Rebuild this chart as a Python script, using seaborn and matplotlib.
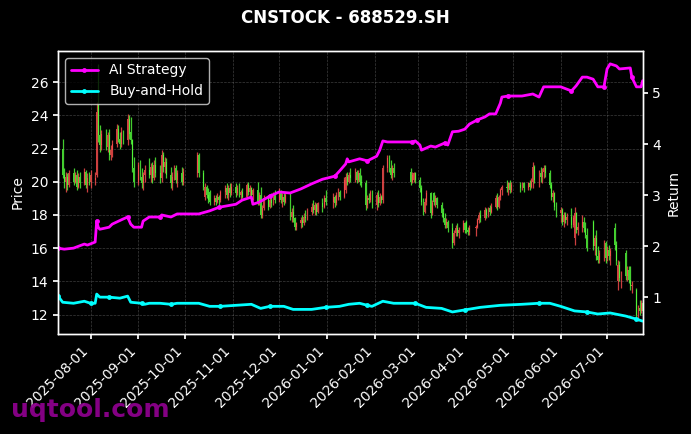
import pandas as pd
import numpy as np
import matplotlib

matplotlib.use("Agg")
import matplotlib.pyplot as plt
import matplotlib.dates as mdates
import seaborn as sns

title = "CNSTOCK - 688529.SH"
watermark = "uqtool.com"

# exchange holidays (no candles on these weekdays)
holidays = [
    "2025-10-01", "2025-10-02", "2025-10-03", "2025-10-06", "2025-10-07", "2025-10-08",
    "2026-01-01", "2026-01-02",
    "2026-02-16", "2026-02-17", "2026-02-18", "2026-02-19", "2026-02-20", "2026-02-23",
    "2026-04-06", "2026-05-01", "2026-05-04", "2026-05-05", "2026-06-19",
]

# daily OHLC, one line per month (2025-07 ... 2026-07)
opens = [
    23.4, 22.0, 20.4, 20.0, 20.3, 19.8, 20.5, 20.0, 20.4, 19.7, 20.3, 19.9, 20.6, 19.8, 20.2,
    20.0, 20.1, 20.4, 24.6, 22.8, 22.2, 22.9, 22.1, 22.8, 21.6, 21.9, 22.3, 23.2, 22.6, 22.3, 23.0, 22.5, 23.8, 23.0, 22.5, 20.8,
    20.0, 21.0, 20.3, 19.9, 20.4, 20.7, 20.4, 20.9, 20.2, 21.0, 20.5, 20.2, 21.6, 20.9, 21.2, 20.4, 19.9, 20.3, 20.8, 20.1, 20.5, 20.0,
    20.5, 21.6, 20.5, 19.1, 19.7, 19.2, 19.4, 18.8, 19.0, 18.8, 19.1, 18.9, 19.4, 19.6, 19.2, 19.6, 19.3,
    19.7, 19.3, 19.6, 19.2, 19.4, 19.1, 19.8, 19.4, 19.6, 19.2, 19.5, 18.8, 19.2, 18.0, 18.4, 19.0, 18.5, 18.9, 18.7, 19.2,
    18.9, 19.4, 18.9, 19.1, 18.8, 19.2, 17.9, 18.2, 17.8, 17.3, 17.5, 17.7, 17.5, 17.9, 17.8, 18.2, 18.5, 18.3, 18.6, 18.2, 18.7, 18.5, 19.0,
    18.8, 19.1, 18.7, 19.2, 19.4, 19.1, 19.5, 20.3, 20.0, 20.4, 20.2, 20.6, 20.1, 20.5, 20.0, 19.9, 18.6, 19.0, 18.9, 19.4,
    18.6, 19.2, 18.7, 19.1, 18.9, 20.8, 21.4, 20.8, 20.4, 20.8, 20.6, 20.0, 20.1, 20.5,
    20.1, 19.6, 18.8, 18.2, 18.8, 19.3, 18.1, 19.3, 18.8, 19.0, 18.6, 18.1, 17.8, 17.4, 17.6, 17.2, 16.3, 16.9, 17.2, 16.9, 17.1, 17.5,
    17.6, 17.1, 17.0, 17.2, 17.3, 17.7, 18.0, 17.8, 18.3, 18.0, 18.4, 18.2, 18.5, 19.0, 18.5, 19.1, 19.5, 19.7, 19.6, 19.9, 19.5,
    19.8, 19.6, 19.9, 19.6, 19.9, 19.7, 20.0, 20.9, 20.1, 20.5, 20.3, 20.6, 20.8, 20.5, 19.8, 19.1, 19.3, 18.5,
    18.1, 18.3, 17.6, 18.0, 17.7, 17.9, 17.4, 16.6, 18.1, 17.1, 17.3, 17.6, 17.2, 16.8, 17.6, 16.1, 16.6, 15.5, 15.3, 15.7, 16.3,
    15.4, 15.9, 15.5, 17.2, 16.2, 14.0, 15.0, 14.2, 15.7, 14.3, 14.7, 14.1, 13.7, 13.5, 12.0, 12.4, 12.2, 12.7,
]
highs = [
    23.8, 22.6, 20.8, 20.6, 20.5, 20.7, 20.8, 20.6, 20.7, 20.5, 20.6, 20.8, 20.7, 20.5, 20.6,
    20.7, 20.6, 24.8, 27.1, 23.4, 23.1, 23.2, 23.0, 23.2, 22.2, 22.5, 23.5, 23.4, 23.0, 23.3, 23.1, 24.1, 24.0, 23.9, 22.6, 21.5,
    21.2, 21.3, 20.8, 20.6, 21.0, 21.4, 21.1, 21.2, 21.3, 21.5, 21.0, 21.9, 21.8, 21.5, 21.4, 20.9, 20.6, 21.0, 21.0, 20.7, 20.9, 20.8,
    21.8, 21.7, 20.7, 19.9, 19.8, 19.6, 19.5, 19.2, 19.2, 19.3, 19.2, 19.5, 19.8, 19.9, 19.8, 19.9, 19.9,
    19.9, 19.8, 19.9, 19.5, 19.6, 19.9, 20.0, 19.8, 19.7, 19.6, 20.0, 19.4, 19.7, 18.6, 19.2, 19.2, 19.1, 19.3, 19.4, 19.5,
    19.6, 19.5, 19.3, 19.4, 19.3, 19.3, 18.4, 18.6, 17.9, 17.6, 17.9, 18.0, 18.1, 18.3, 18.4, 18.7, 18.9, 18.8, 18.7, 18.8, 19.0, 19.2, 19.5,
    19.3, 19.2, 19.4, 19.6, 19.5, 20.3, 20.5, 20.6, 20.6, 20.8, 20.8, 20.7, 20.7, 20.8, 20.4, 20.1, 19.2, 19.3, 19.5, 19.5,
    19.4, 19.5, 19.3, 19.2, 21.0, 21.6, 21.6, 21.3, 21.0, 21.1, 20.8, 20.6, 20.6, 20.6,
    20.3, 19.8, 19.0, 19.0, 19.5, 19.4, 18.9, 19.4, 19.2, 19.1, 18.8, 18.4, 18.1, 17.8, 17.7, 17.5, 17.1, 17.4, 17.5, 17.3, 17.7, 17.6,
    17.7, 17.3, 17.4, 17.4, 17.8, 18.2, 18.3, 18.5, 18.4, 18.5, 18.6, 18.7, 19.2, 19.3, 19.2, 19.6, 19.8, 20.1, 20.0, 20.1, 20.0,
    20.0, 20.0, 20.0, 20.0, 20.1, 20.2, 21.2, 21.0, 20.7, 20.9, 20.8, 21.0, 21.0, 20.7, 20.0, 19.5, 19.4, 18.8,
    18.5, 18.4, 18.2, 18.2, 18.1, 18.4, 18.0, 18.5, 18.2, 17.6, 18.0, 17.9, 17.6, 17.2, 17.7, 16.8, 17.1, 16.1, 15.9, 16.5, 16.4,
    16.1, 16.2, 16.0, 17.5, 16.4, 15.3, 15.2, 14.6, 15.9, 14.9, 14.9, 14.9, 14.0, 13.6, 12.6, 12.9, 12.9, 12.8,
]
lows = [
    21.6, 20.2, 19.6, 19.4, 19.5, 19.7, 19.8, 19.9, 19.5, 19.6, 19.6, 19.8, 19.6, 19.4, 19.8,
    19.6, 19.8, 20.3, 22.4, 21.8, 21.9, 21.9, 21.8, 21.3, 21.3, 21.5, 22.1, 22.4, 22.0, 22.1, 22.3, 22.2, 22.6, 22.3, 20.6, 19.7,
    19.8, 20.1, 19.6, 19.5, 20.0, 20.2, 20.0, 19.9, 20.1, 20.3, 19.9, 20.0, 20.6, 20.5, 20.2, 19.6, 19.5, 20.1, 19.9, 19.7, 19.8, 19.8,
    20.3, 20.3, 19.5, 18.9, 19.0, 18.7, 18.6, 18.6, 18.6, 18.7, 18.6, 18.8, 19.0, 19.0, 18.9, 19.1, 19.2,
    19.1, 19.2, 19.1, 18.9, 19.0, 19.0, 19.2, 19.1, 19.0, 18.9, 18.6, 18.6, 17.8, 17.8, 18.3, 18.3, 18.4, 18.5, 18.6, 18.7,
    18.8, 18.7, 18.5, 18.6, 18.7, 17.7, 17.6, 17.6, 17.1, 17.1, 17.2, 17.3, 17.4, 17.6, 17.7, 18.0, 18.1, 18.0, 18.0, 18.1, 18.2, 18.4, 18.6,
    18.4, 18.5, 18.6, 18.9, 18.9, 19.0, 19.3, 19.8, 19.9, 20.0, 20.0, 19.9, 20.0, 19.8, 19.7, 18.3, 18.4, 18.7, 18.8, 18.4,
    18.3, 18.5, 18.6, 18.7, 18.7, 20.6, 20.6, 20.2, 20.1, 20.3, 19.8, 19.9, 20.0, 19.9,
    19.4, 18.6, 18.0, 18.1, 18.6, 17.8, 18.0, 18.6, 18.5, 18.4, 17.9, 17.6, 17.2, 17.2, 17.0, 16.0, 16.2, 16.7, 16.7, 16.6, 17.0, 16.9,
    16.9, 16.8, 16.8, 16.7, 17.2, 17.5, 17.6, 17.7, 17.8, 17.9, 18.0, 18.1, 18.4, 18.3, 18.4, 18.9, 19.2, 19.4, 19.2, 19.3, 19.4,
    19.4, 19.5, 19.4, 19.5, 19.5, 19.6, 19.6, 19.9, 19.7, 20.0, 19.9, 20.2, 20.3, 19.6, 18.9, 18.8, 18.3, 17.9,
    17.6, 17.4, 17.3, 17.5, 17.4, 17.2, 17.3, 16.2, 16.9, 16.8, 17.0, 17.0, 16.6, 15.8, 15.9, 15.6, 15.3, 15.1, 15.1, 15.2, 15.1,
    15.2, 15.3, 15.0, 15.9, 15.0, 13.5, 14.0, 13.6, 14.1, 14.0, 13.9, 13.5, 13.3, 11.8, 11.6, 12.0, 12.1, 12.0,
]
closes = [
    22.0, 20.4, 20.0, 20.3, 19.8, 20.5, 20.0, 20.4, 19.7, 20.3, 19.9, 20.6, 19.8, 20.2, 20.0,
    20.4, 20.2, 24.2, 22.8, 22.2, 22.9, 22.1, 22.8, 21.6, 21.9, 22.3, 23.2, 22.6, 22.3, 23.0, 22.5, 23.8, 22.9, 22.5, 20.8, 20.0,
    21.0, 20.3, 19.9, 20.4, 20.7, 20.4, 20.9, 20.2, 21.0, 20.5, 20.2, 21.6, 20.9, 21.2, 20.4, 19.9, 20.3, 20.8, 20.1, 20.5, 20.0, 20.6,
    21.6, 20.5, 19.7, 19.7, 19.2, 18.9, 18.8, 19.0, 18.8, 19.1, 18.9, 19.4, 19.6, 19.2, 19.6, 19.3, 19.7,
    19.3, 19.6, 19.2, 19.4, 19.1, 19.8, 19.4, 19.6, 19.2, 19.5, 18.8, 19.2, 18.0, 18.4, 19.0, 18.5, 18.9, 18.7, 19.2, 18.9,
    19.4, 18.9, 19.1, 18.8, 19.2, 17.9, 18.2, 17.8, 17.3, 17.5, 17.7, 17.5, 17.9, 17.8, 18.2, 18.5, 18.3, 18.6, 18.2, 18.7, 18.5, 19.0, 18.8,
    19.1, 18.7, 19.2, 19.4, 19.1, 20.1, 20.3, 20.0, 20.4, 20.2, 20.6, 20.1, 20.5, 20.0, 19.9, 18.6, 19.0, 18.9, 19.4, 18.6,
    19.2, 18.7, 19.1, 18.9, 20.8, 21.4, 20.8, 20.4, 20.8, 20.5, 20.0, 20.4, 20.5, 20.1,
    19.6, 18.8, 18.2, 18.8, 19.3, 18.1, 18.7, 18.8, 19.0, 18.6, 18.1, 17.8, 17.4, 17.6, 17.2, 16.3, 16.9, 17.2, 16.9, 17.1, 17.5, 17.1,
    17.1, 17.0, 17.2, 17.3, 17.7, 18.0, 17.8, 18.3, 18.0, 18.4, 18.2, 18.5, 19.0, 18.5, 19.1, 19.5, 19.7, 19.6, 19.9, 19.5, 19.8,
    19.6, 19.9, 19.6, 19.9, 19.7, 20.0, 20.9, 20.1, 20.5, 20.3, 20.6, 20.8, 20.5, 19.8, 19.1, 19.3, 18.5, 18.1,
    18.3, 17.6, 18.0, 17.7, 17.9, 17.4, 17.8, 18.1, 17.1, 17.3, 17.6, 17.2, 16.8, 16.0, 16.1, 16.6, 15.5, 15.3, 15.7, 16.3, 15.4,
    15.9, 15.5, 15.8, 16.2, 15.2, 15.0, 14.2, 14.4, 14.3, 14.7, 14.1, 13.7, 13.8, 12.0, 12.4, 12.2, 12.7, 12.2,
]

# strategy equity curves
ai_dates = [
    "2025-07-11", "2025-07-15", "2025-07-21", "2025-07-28", "2025-07-30", "2025-08-04", "2025-08-05",
    "2025-08-06", "2025-08-07", "2025-08-13", "2025-08-15", "2025-08-22", "2025-08-25", "2025-08-27",
    "2025-08-29", "2025-09-03", "2025-09-04", "2025-09-08", "2025-09-15", "2025-09-16", "2025-09-22",
    "2025-09-26", "2025-10-10", "2025-10-17", "2025-10-23", "2025-11-03", "2025-11-07", "2025-11-13",
    "2025-11-14", "2025-11-18", "2025-11-25", "2025-12-01", "2025-12-08", "2025-12-15", "2025-12-22",
    "2025-12-29", "2026-01-06", "2026-01-09", "2026-01-13", "2026-01-14", "2026-01-15", "2026-01-22",
    "2026-01-27", "2026-02-02", "2026-02-04", "2026-02-06", "2026-02-09", "2026-02-13", "2026-02-25",
    "2026-02-27", "2026-03-02", "2026-03-03", "2026-03-09", "2026-03-12", "2026-03-18", "2026-03-20",
    "2026-03-23", "2026-03-27", "2026-03-31", "2026-04-03", "2026-04-08", "2026-04-13", "2026-04-16",
    "2026-04-20", "2026-04-23", "2026-04-24", "2026-04-28", "2026-05-07", "2026-05-14", "2026-05-18",
    "2026-05-21", "2026-06-01", "2026-06-08", "2026-06-11", "2026-06-15", "2026-06-18", "2026-06-22",
    "2026-06-25", "2026-06-29", "2026-07-01", "2026-07-03", "2026-07-07", "2026-07-09", "2026-07-16",
    "2026-07-17", "2026-07-20", "2026-07-23", "2026-07-24",
]
ai_values = [
    1.96, 1.94, 1.96, 2.04, 2.02, 2.08, 2.49, 2.37, 2.33, 2.37, 2.43, 2.53, 2.57, 2.43, 2.37,
    2.37, 2.49, 2.57, 2.57, 2.61, 2.57, 2.63, 2.63, 2.69, 2.76, 2.82, 2.90, 2.96, 2.82, 2.86,
    2.98, 3.06, 3.04, 3.12, 3.22, 3.31, 3.37, 3.47, 3.61, 3.71, 3.65, 3.71, 3.67, 3.76, 3.88,
    4.06, 4.04, 4.04, 4.04, 4.06, 3.98, 3.88, 3.96, 3.94, 4.02, 3.98, 4.24, 4.25, 4.29, 4.39,
    4.47, 4.53, 4.59, 4.59, 4.80, 4.92, 4.94, 4.94, 4.98, 4.92, 5.12, 5.12, 5.04, 5.14, 5.31,
    5.31, 5.27, 5.12, 5.12, 5.47, 5.57, 5.53, 5.47, 5.49, 5.31, 5.12, 5.12, 5.24,
]
bh_dates = [
    "2025-07-11", "2025-07-14", "2025-07-21", "2025-07-28", "2025-08-01", "2025-08-04", "2025-08-05",
    "2025-08-07", "2025-08-13", "2025-08-20", "2025-08-25", "2025-08-27", "2025-09-03", "2025-09-05",
    "2025-09-08", "2025-09-15", "2025-09-22", "2025-09-26", "2025-10-10", "2025-10-17", "2025-10-24",
    "2025-11-03", "2025-11-13", "2025-11-19", "2025-11-25", "2025-12-04", "2025-12-10", "2025-12-22",
    "2025-12-31", "2026-01-09", "2026-01-15", "2026-01-22", "2026-01-27", "2026-01-30", "2026-02-06",
    "2026-02-13", "2026-02-27", "2026-03-06", "2026-03-16", "2026-03-23", "2026-03-31", "2026-04-10",
    "2026-04-23", "2026-05-07", "2026-05-18", "2026-05-25", "2026-06-01", "2026-06-10", "2026-06-18",
    "2026-06-25", "2026-07-03", "2026-07-13", "2026-07-20", "2026-07-24",
]
bh_values = [
    1.02, 0.90, 0.88, 0.92, 0.88, 0.88, 1.06, 1.00, 1.00, 0.98, 1.02, 0.90, 0.88, 0.86,
    0.88, 0.88, 0.86, 0.88, 0.88, 0.82, 0.82, 0.84, 0.86, 0.78, 0.82, 0.82, 0.76, 0.76,
    0.80, 0.82, 0.86, 0.88, 0.84, 0.82, 0.92, 0.88, 0.88, 0.80, 0.78, 0.71, 0.75, 0.80,
    0.84, 0.86, 0.88, 0.88, 0.82, 0.73, 0.71, 0.67, 0.69, 0.63, 0.57, 0.53,
]

# trading calendar
dates = pd.bdate_range("2025-07-11", "2026-07-24", freq="C", holidays=holidays)
df = pd.DataFrame(
    {"date": dates, "open": opens, "high": highs, "low": lows, "close": closes}
)
df["up"] = df["close"] >= df["open"]

ai = pd.DataFrame({"date": pd.to_datetime(ai_dates), "value": ai_values})
bh = pd.DataFrame({"date": pd.to_datetime(bh_dates), "value": bh_values})

sns.set_theme(
    style="dark",
    rc={
        "figure.facecolor": "black",
        "axes.facecolor": "black",
        "axes.edgecolor": "white",
        "axes.labelcolor": "white",
        "text.color": "white",
        "xtick.color": "white",
        "ytick.color": "white",
        "xtick.bottom": True,
        "ytick.left": True,
        "xtick.major.size": 3.5,
        "ytick.major.size": 3.5,
        "xtick.labelsize": 10,
        "ytick.labelsize": 10,
        "axes.labelsize": 10,
        "legend.fontsize": 10,
    },
)
plt.rcParams["font.family"] = ["DejaVu Sans"]

fig, ax = plt.subplots(figsize=(6.91, 4.34), dpi=100)
fig.subplots_adjust(left=0.084, right=0.930, top=0.8825, bottom=0.2304)

up_color = "#ff4f4f"
down_color = "#55ff3c"
colors = np.where(df["up"], up_color, down_color)

# candles: wicks + bodies
ax.vlines(df["date"], df["low"], df["high"], colors=colors, linewidth=0.9, alpha=0.8)
body_bottom = df[["open", "close"]].min(axis=1)
body_height = (df["close"] - df["open"]).abs()
ax.bar(df["date"], body_height, bottom=body_bottom, width=0.6, color=colors,
       edgecolor="none", linewidth=0, alpha=0.8)
ax.use_sticky_edges = False
ax.autoscale_view()

ax.set_ylabel("Price")
ax.grid(True, which="major", color="#666666", linestyle="--", linewidth=0.5, alpha=0.6)
ax.set_xlim(dates[0], dates[-1])
ax.xaxis.set_major_locator(mdates.MonthLocator(bymonthday=1))
ax.xaxis.set_major_formatter(mdates.DateFormatter("%Y-%m-%d"))
plt.setp(ax.get_xticklabels(), rotation=45, ha="right")

ax2 = ax.twinx()
sns.lineplot(data=ai, x="date", y="value", ax=ax2, color="#ff00ff", linewidth=2,
             marker="o", markersize=3.5, markeredgewidth=0, markevery=6, label="AI Strategy")
sns.lineplot(data=bh, x="date", y="value", ax=ax2, color="#00ffff", linewidth=2,
             marker="o", markersize=3.5, markeredgewidth=0, markevery=4, label="Buy-and-Hold")
ax2.set_ylabel("Return")
ax2.set_xlabel("")
ax.set_xlabel("")
ax2.grid(False)
ax2.tick_params(axis="y", right=True, length=3.5, colors="white")
ax2.set_xlim(dates[0], dates[-1])

for a in (ax, ax2):
    for s in a.spines.values():
        s.set_color("white")
        s.set_linewidth(1.0)

leg = ax2.legend(loc="upper left", facecolor="black", edgecolor="#dddddd",
                 labelcolor="white", framealpha=0.8)

fig.suptitle(title, fontsize=12, fontweight="bold", color="white")
fig.text(0.016, 0.039, watermark, fontsize=18, fontweight="bold", color="#8c008c", alpha=0.95)

fig.savefig("out.png", dpi=100, facecolor="black")
